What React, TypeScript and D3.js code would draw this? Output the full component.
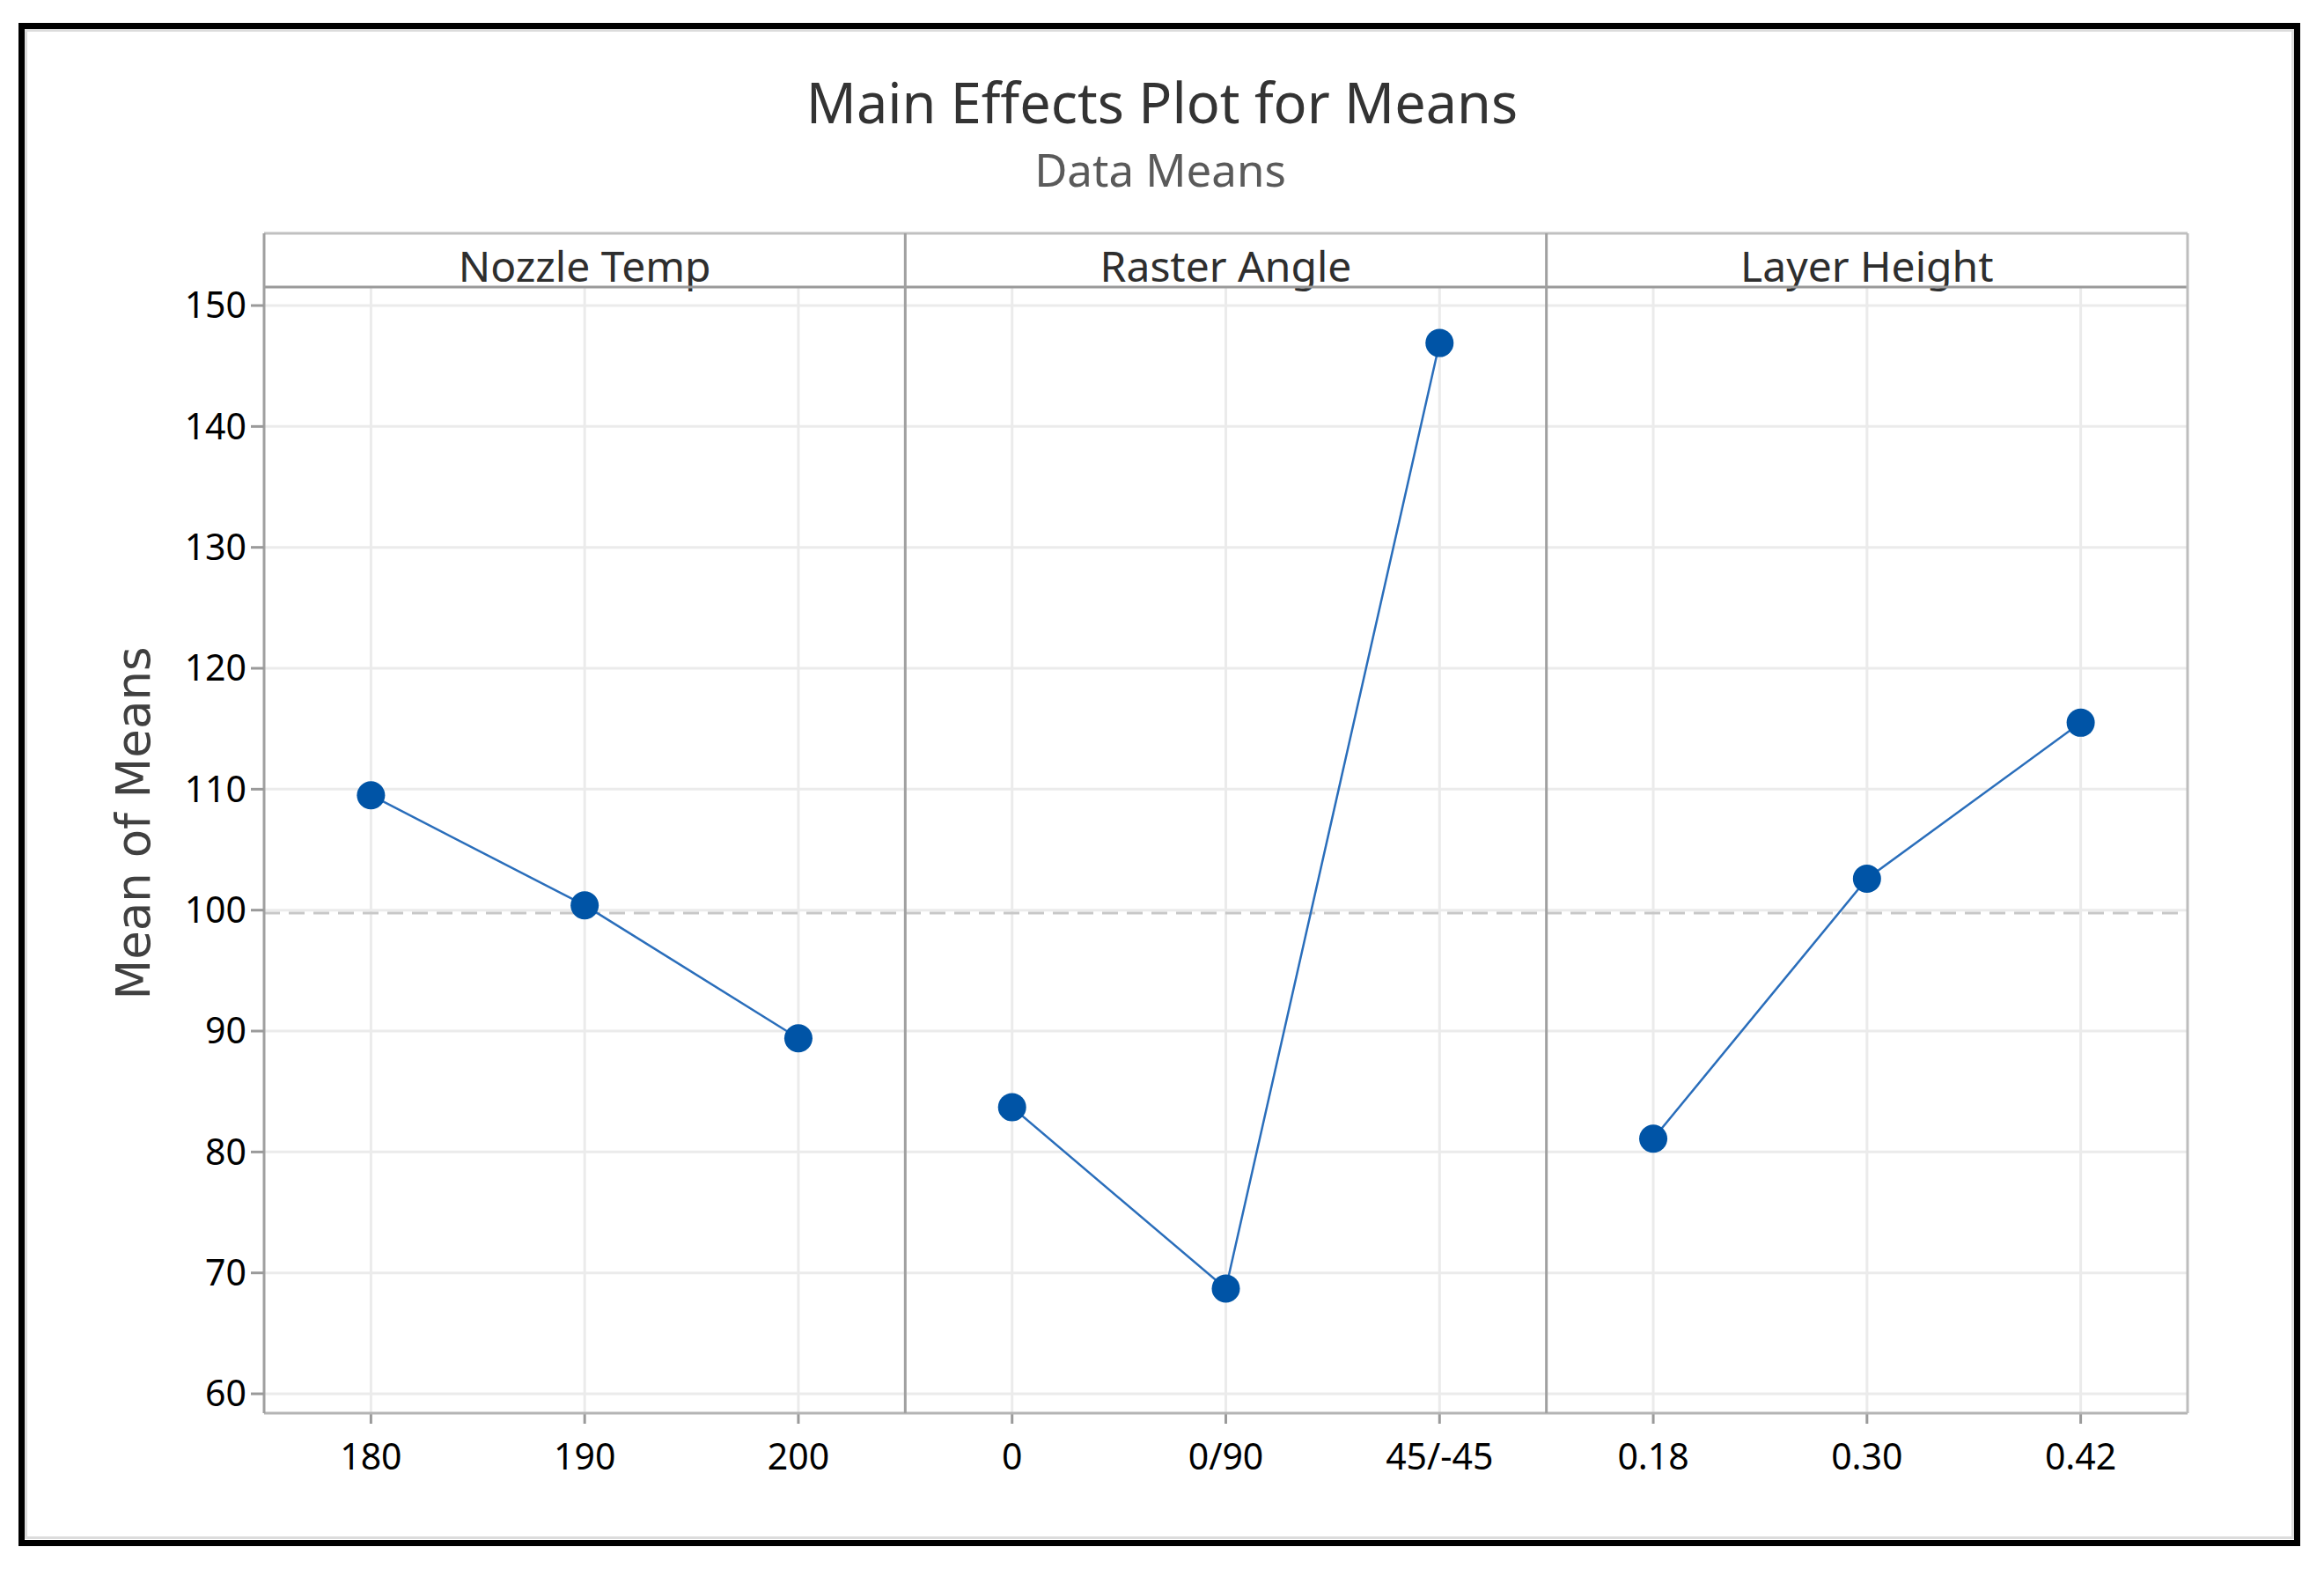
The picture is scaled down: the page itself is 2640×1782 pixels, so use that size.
import * as d3 from 'd3';

// valores (medias por nivel)
const factors = ['Nozzle Temp', 'Raster Angle', 'Layer Height'];
const nozzleLevels = ['180', '190', '200'];
const nozzleMeans = [109.5, 100.4, 89.4];
const rasterLevels = ['0', '0/90', '45/-45'];
const rasterMeans = [83.7, 68.7, 146.9];
const layerLevels = ['0.18', '0.30', '0.42'];
const layerMeans = [81.1, 102.6, 115.5];
const yTicks = [60, 70, 80, 90, 100, 110, 120, 130, 140, 150];

const panels = [
    { name: factors[0], levels: nozzleLevels, means: nozzleMeans },
    { name: factors[1], levels: rasterLevels, means: rasterMeans },
    { name: factors[2], levels: layerLevels, means: layerMeans },
];

const W = 2640;
const H = 1782;
const frame = { left: 300, right: 2485, top: 265, strip: 326, bottom: 1605 };
const FONT = '"Noto Sans", "Open Sans", sans-serif';
const BLUE = '#0054a6';

export default function App() {
    const xPanel = d3.scaleBand<string>()
        .domain(factors)
        .range([frame.left, frame.right]);

    const y = d3.scaleLinear()
        .domain([58.4, 151.53])
        .range([frame.bottom, frame.strip]);

    const grandMean = d3.mean([...nozzleMeans, ...rasterMeans, ...layerMeans]) as number;

    const line = d3.line<[number, number]>()
        .x(d => d[0])
        .y(d => d[1]);

    const levelScale = (p: typeof panels[number]) => {
        const x0 = xPanel(p.name) as number;
        return d3.scalePoint<string>()
            .domain(p.levels)
            .range([x0, x0 + xPanel.bandwidth()])
            .padding(0.5);
    };

    return (
        <div>
            <style>{`body{margin:0;background:#fff}`}</style>
            <svg width={W} height={H} style={{ display: 'block' }}>
                <rect x={0} y={0} width={W} height={H} fill="#fff" />
                {/* marco exterior */}
                <rect x={29.5} y={34.5} width={2575} height={1712} fill="none" stroke="#dcdcdc" strokeWidth={3} />
                <rect x={24.5} y={29.5} width={2585} height={1723} fill="none" stroke="#000" strokeWidth={7} />

                {/* títulos */}
                <text x={1320} y={140} textAnchor="middle" fontFamily={FONT} fontSize={63} fill="#333">
                    Main Effects Plot for Means
                </text>
                <text x={1318} y={212} textAnchor="middle" fontFamily={FONT} fontSize={51} fill="#5a5a5a">
                    Data Means
                </text>

                {/* grid horizontal */}
                {yTicks.map(t => (
                    <line key={'gy' + t} x1={frame.left} x2={frame.right} y1={y(t)} y2={y(t)}
                        stroke="#ebebeb" strokeWidth={3} />
                ))}

                {panels.map(p => {
                    const x0 = xPanel(p.name) as number;
                    const x = levelScale(p);
                    return (
                        <g key={p.name}>
                            {p.levels.map(l => (
                                <g key={l}>
                                    <line x1={x(l)} x2={x(l)} y1={frame.strip} y2={frame.bottom}
                                        stroke="#ebebeb" strokeWidth={3} />
                                    <line x1={x(l)} x2={x(l)} y1={frame.bottom} y2={frame.bottom + 12}
                                        stroke="#9a9a9a" strokeWidth={3} />
                                    <text x={x(l)} y={1669} textAnchor="middle" fontFamily={FONT}
                                        fontSize={41} fill="#000">{l}</text>
                                </g>
                            ))}
                            <text x={x0 + xPanel.bandwidth() / 2} y={320} textAnchor="middle"
                                fontFamily={FONT} fontSize={48} fill="#2e2e2e">{p.name}</text>
                        </g>
                    );
                })}

                {/* línea de media global */}
                <line x1={frame.left} x2={frame.right} y1={y(grandMean)} y2={y(grandMean)}
                    stroke="#c8c8c8" strokeWidth={3} strokeDasharray="18 10" />

                {/* marco del gráfico */}
                <line x1={frame.left} x2={frame.right} y1={frame.top} y2={frame.top} stroke="#c0c0c0" strokeWidth={3} />
                <line x1={frame.left} x2={frame.right} y1={frame.strip} y2={frame.strip} stroke="#9a9a9a" strokeWidth={3} />
                <line x1={frame.left} x2={frame.right} y1={frame.bottom} y2={frame.bottom} stroke="#b4b4b4" strokeWidth={3} />
                <line x1={frame.right} x2={frame.right} y1={frame.top} y2={frame.bottom} stroke="#bdbdbd" strokeWidth={3} />
                <line x1={frame.left} x2={frame.left} y1={frame.top} y2={frame.bottom} stroke="#a0a0a0" strokeWidth={3} />
                {factors.slice(1).map(f => (
                    <line key={'div' + f} x1={xPanel(f)} x2={xPanel(f)} y1={frame.top} y2={frame.bottom}
                        stroke="#a0a0a0" strokeWidth={3} />
                ))}

                {/* eje Y */}
                {yTicks.map(t => (
                    <g key={'ty' + t}>
                        <line x1={frame.left - 15} x2={frame.left} y1={y(t)} y2={y(t)} stroke="#9a9a9a" strokeWidth={3} />
                        <text x={frame.left - 20} y={y(t)} dy="0.35em" textAnchor="end" fontFamily={FONT}
                            fontSize={41} fill="#000">{t}</text>
                    </g>
                ))}
                <text transform="translate(170,935) rotate(-90)" textAnchor="middle"
                    fontFamily='"DejaVu Sans", sans-serif' fontSize={53} fill="#404040">Mean of Means</text>

                {/* líneas y puntos */}
                {panels.map(p => {
                    const x = levelScale(p);
                    const pts: [number, number][] = p.levels.map((l, i) => [x(l) as number, y(p.means[i])]);
                    return (
                        <g key={'d' + p.name}>
                            <path d={line(pts) as string} fill="none" stroke="#2a6ebb" strokeWidth={2.5} />
                            {pts.map((d, i) => (
                                <circle key={i} cx={d[0]} cy={d[1]} r={16} fill={BLUE} />
                            ))}
                        </g>
                    );
                })}
            </svg>
        </div>
    );
}
